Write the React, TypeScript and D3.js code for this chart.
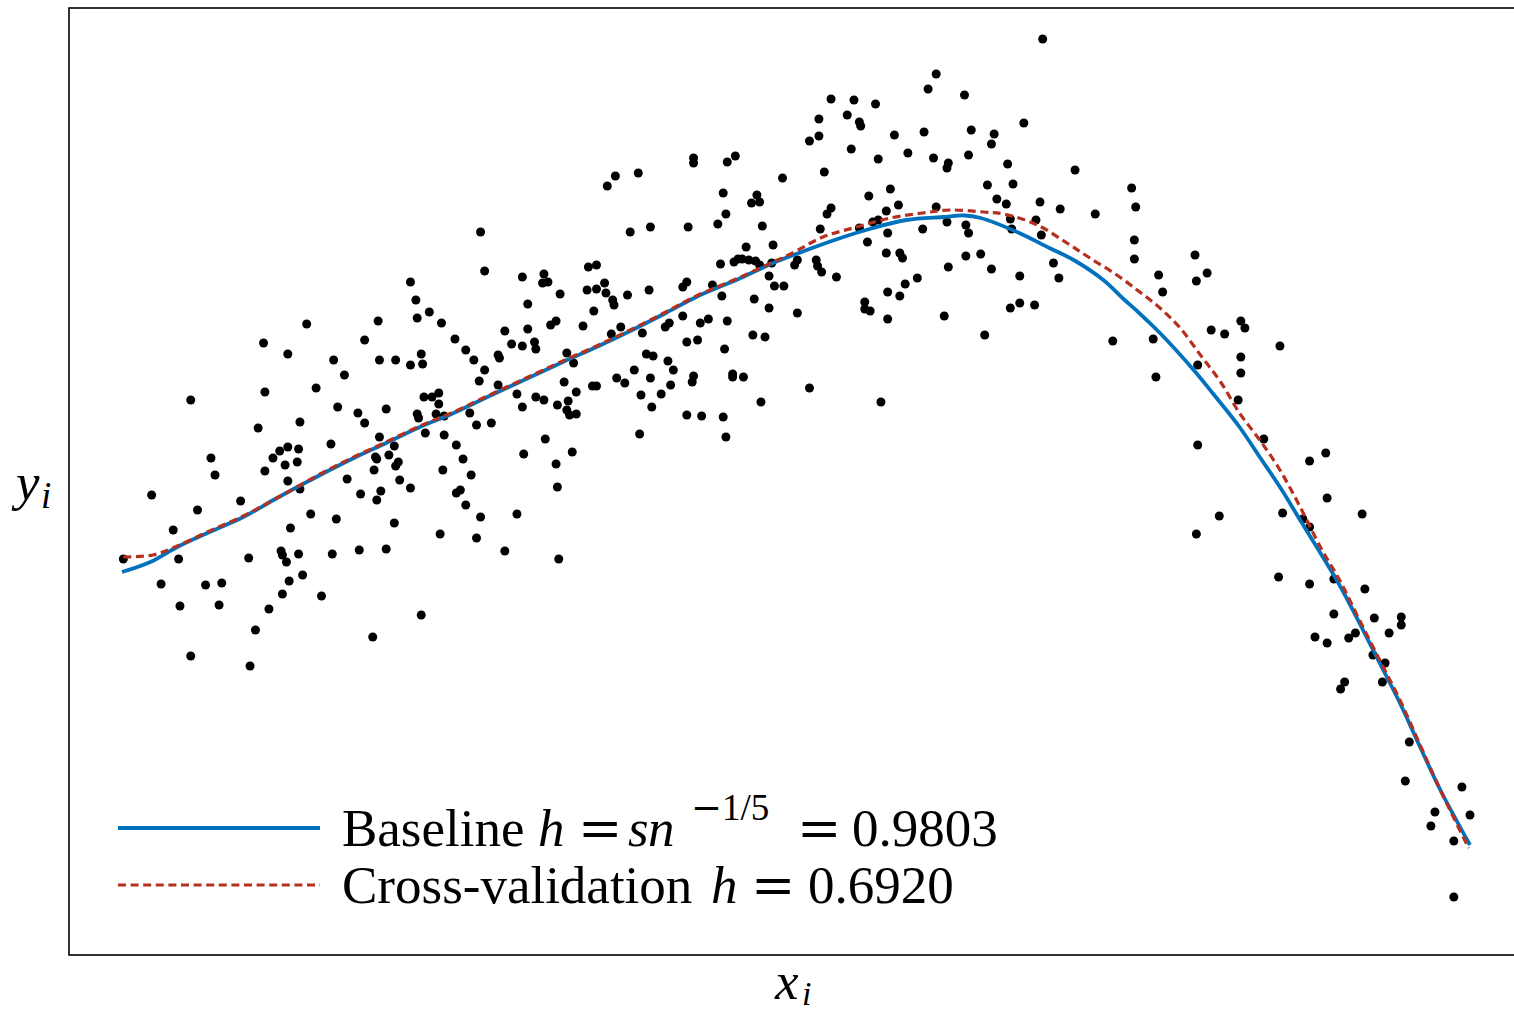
import React from "react";
import * as d3 from "d3";

// Observed sample points (x_i, y_i)
const samples: [number, number][] = [
  [1.37,2.76],[1.05,2.57],[1.23,2.46],[1.44,2.12],[0.51,2.00],[1.06,2.08],[1.32,1.78],[1.01,1.72],
  [1.17,1.49],[1.23,1.53],[1.31,1.51],[0.66,1.42],[1.12,1.42],[1.21,1.35],[1.30,1.38],[0.69,1.25],
  [1.06,1.29],[1.23,1.19],[1.32,1.11],[0.22,1.05],[0.88,0.99],[0.56,0.90],[1.40,0.86],[1.25,0.72],
  [0.38,0.70],[0.01,0.41],[0.42,0.41],[0.94,0.42],[1.18,0.49],[1.19,0.45],[1.22,0.38],[1.31,0.46],
  [1.34,0.25],[0.29,0.16],[0.62,0.15],[0.74,0.17],[1.24,0.19],[1.19,0.06],[1.48,0.04],[0.43,-0.06],
  [0.72,-0.05],[1.09,-0.09],[0.99,-0.30],[0.51,-0.56],[0.95,-0.66],
  [2.66,3.68],[2.69,3.29],[2.97,3.23],[2.14,3.18],[3.01,2.96],[2.18,3.00],[2.28,2.88],[2.19,2.82],
  [1.90,2.79],[2.37,2.77],[3.01,2.71],[2.84,2.69],[1.80,2.60],[2.47,2.61],[2.89,2.56],[2.97,2.54],
  [2.55,2.50],[2.79,2.45],[2.80,2.42],[1.57,2.40],[1.91,2.40],[2.03,2.40],[2.22,2.46],[2.14,2.35],
  [2.23,2.36],[2.61,2.40],[2.69,2.30],[1.65,2.25],[2.65,2.19],[2.79,2.15],[2.24,2.03],[2.30,2.03],
  [2.35,2.07],[2.35,1.96],[2.93,2.06],[2.97,1.93],[1.60,1.93],[1.96,1.91],[1.75,1.87],[2.19,1.86],
  [2.20,1.82],[2.33,1.86],[2.39,1.84],[2.58,1.87],[1.80,1.77],[2.63,1.75],[2.74,1.77],[2.25,1.67],
  [2.39,1.65],[1.91,1.63],[1.55,1.56],[2.48,1.55],[2.02,1.54],[1.88,1.43],[1.89,1.41],[1.98,1.45],
  [2.05,1.38],[2.03,1.34],[1.87,1.30],[2.53,1.41],[2.98,1.46],[2.38,1.30],[2.59,1.25],[1.67,1.21],
  [2.06,1.20],[2.14,1.12],[2.48,1.07],[2.51,1.10],[1.92,1.09],[1.77,1.06],[1.89,1.00],[2.55,0.95],
  [2.66,0.83],[2.93,0.86],[1.59,0.81],[2.02,0.77],[2.36,0.66],[2.63,0.62],[2.84,0.49],[1.56,0.46],
  [1.76,0.50],[1.96,0.51],[2.22,-0.15],[1.86,-0.37],
  [4.24,4.42],[4.24,4.37],[4.55,4.44],[4.49,4.38],[3.66,4.24],[3.60,4.14],[3.83,4.27],[4.46,4.07],
  [4.48,3.86],[4.42,3.76],[3.77,3.68],[3.92,3.73],[4.20,3.73],[4.44,3.36],[4.54,3.38],[4.57,3.41],
  [3.46,3.33],[3.52,3.35],[3.13,3.26],[3.12,3.17],[3.16,3.18],[3.25,3.06],[3.45,3.10],[3.52,3.11],
  [3.58,3.17],[3.59,3.07],[3.64,3.00],[3.65,2.95],[3.75,3.05],[3.91,3.10],[4.16,3.13],[4.19,3.18],
  [4.38,3.15],[4.45,3.04],[3.50,2.89],[4.16,2.84],[3.18,2.75],[3.22,2.79],[3.42,2.74],[3.70,2.73],
  [3.63,2.66],[3.86,2.67],[4.03,2.73],[4.06,2.77],[4.29,2.77],[4.35,2.81],[4.49,2.79],[3.06,2.58],
  [3.07,2.51],[4.19,2.58],[4.27,2.60],[4.47,2.51],[3.30,2.47],[3.35,2.37],[3.89,2.46],[3.94,2.44],
  [4.05,2.39],[4.09,2.30],[3.80,2.30],[4.53,2.26],[4.53,2.23],[3.28,2.18],[3.67,2.22],[3.73,2.17],
  [3.49,2.14],[3.52,2.14],[3.92,2.22],[4.24,2.24],[4.23,2.18],[4.07,2.15],[3.07,2.03],[3.13,2.00],
  [3.37,2.08],[3.31,1.99],[3.23,1.95],[3.30,1.90],[3.32,1.85],[3.37,1.86],[3.85,2.05],[4.00,2.06],
  [3.93,1.93],[4.19,1.85],[4.30,1.84],[4.46,1.83],[4.48,1.63],[3.14,1.61],[3.84,1.66],[3.34,1.48],
  [3.22,1.36],[3.23,1.13],[3.24,0.41],
  [6.04,5.26],[5.98,5.11],[5.26,5.01],[5.43,5.00],[5.59,4.96],[5.38,4.85],[5.17,4.81],[5.47,4.78],
  [5.48,4.74],[5.95,4.68],[5.73,4.65],[5.17,4.64],[5.10,4.59],[5.41,4.51],[5.83,4.47],[5.61,4.41],
  [6.02,4.42],[6.13,4.37],[6.12,4.32],[4.90,4.22],[5.21,4.28],[5.54,4.04],[5.70,4.11],[4.71,4.05],
  [4.67,3.97],[4.73,3.98],[5.76,3.95],[5.26,3.92],[5.23,3.86],[5.67,3.89],[6.04,3.93],[4.75,3.74],
  [5.57,3.78],[5.61,3.80],[5.18,3.71],[5.47,3.72],[5.94,3.71],[6.12,3.78],[5.68,3.67],[4.63,3.53],
  [4.83,3.55],[5.53,3.58],[5.67,3.47],[5.77,3.47],[5.79,3.42],[4.60,3.41],[4.65,3.40],[4.70,3.39],
  [4.73,3.35],[4.82,3.37],[4.99,3.35],[5.01,3.40],[5.15,3.40],[5.16,3.34],[5.19,3.28],[5.30,3.23],
  [6.13,3.33],[4.80,3.24],[4.84,3.14],[4.91,3.14],[5.68,3.08],[5.81,3.16],[5.90,3.22],[5.77,3.04],
  [4.69,3.01],[4.80,2.92],[5.01,2.87],[5.51,2.98],[5.51,2.91],[5.55,2.89],[5.68,2.81],[6.10,2.84],
  [4.68,2.65],[4.77,2.63],[4.61,2.23],[5.10,2.12],[4.74,1.98],[5.63,1.98],
  [6.83,5.61],[6.25,5.05],[6.69,4.77],[6.30,4.70],[6.47,4.66],[6.45,4.56],[6.28,4.45],[6.57,4.36],
  [7.07,4.30],[6.42,4.15],[6.61,4.16],[7.49,4.12],[6.49,4.01],[6.56,3.96],[6.81,3.98],[7.52,3.93],
  [6.96,3.91],[7.22,3.86],[6.26,3.75],[6.28,3.67],[6.59,3.81],[6.60,3.71],[6.78,3.80],[6.82,3.65],
  [7.51,3.60],[6.26,3.44],[6.37,3.46],[6.45,3.31],[6.66,3.24],[6.91,3.37],[6.95,3.22],[7.51,3.41],
  [7.69,3.25],[6.59,2.92],[6.66,2.97],[6.77,2.95],[6.40,2.65],[7.35,2.59],[7.65,2.61],[7.67,2.23],
  [7.96,3.45],[8.05,3.27],[7.97,3.19],[7.72,3.08],[8.30,2.79],[8.33,2.72],[8.08,2.70],[8.18,2.66],
  [8.59,2.54],[8.30,2.43],[7.98,2.35],[8.30,2.27],[8.28,2.00],[8.47,1.61],[7.98,1.55],[8.81,1.39],
  [8.61,0.87],[8.14,0.84],[7.97,0.66],[8.76,0.81],[8.81,0.73],[8.58,0.23],[8.81,0.16],[8.85,-0.37],
  [8.93,1.47],[8.94,1.02],[9.20,0.86],[8.99,0.21],[9.22,0.11],[8.99,-0.14],[9.29,-0.18],[9.49,-0.17],
  [9.49,-0.25],[9.10,-0.38],[9.15,-0.33],[8.94,-0.43],[9.40,-0.33],[9.28,-0.55],[9.37,-0.63],[9.35,-0.82],
  [9.07,-0.82],[9.04,-0.89],[9.55,-1.42],[9.52,-1.81],[9.94,-1.87],[9.74,-2.12],[10.00,-2.15],[9.71,-2.26],
  [9.88,-2.41],[9.88,-2.97],
];

// Baseline bandwidth estimate h = s n^{-1/5} = 0.9803
const baselineX = [0,0.21,0.41,0.65,0.90,1.15,1.47,1.72,1.96,2.21,2.46,2.71,3.03,3.27,3.52,3.77,4.02,4.26,4.59,4.83,5.08,5.33,5.57,5.82,6.09,6.25,6.37,6.64,6.88,7.06,7.28,7.43,7.53,7.70,7.95,8.09,8.29,8.44,8.59,8.74,8.89,9.04,9.18,9.33,9.48,9.63,9.78,10.0];
const baselineY = [0.28,0.38,0.53,0.68,0.83,1.02,1.25,1.42,1.57,1.73,1.87,2.03,2.23,2.38,2.53,2.69,2.86,3.03,3.22,3.37,3.50,3.62,3.72,3.80,3.83,3.845,3.82,3.68,3.52,3.40,3.20,3.01,2.89,2.67,2.30,2.07,1.73,1.43,1.13,0.80,0.47,0.13,-0.23,-0.63,-1.03,-1.47,-1.90,-2.45];

// Cross-validation estimate h = 0.6920
const cvX = [0.01,0.23,0.41,0.65,0.90,1.15,1.47,1.72,1.96,2.21,2.46,2.71,3.03,3.27,3.52,3.77,4.02,4.26,4.59,4.83,4.96,5.20,5.45,5.70,5.94,6.14,6.39,6.54,6.79,7.01,7.18,7.38,7.55,7.70,7.85,8.00,8.15,8.29,8.44,8.59,8.74,8.89,9.04,9.18,9.33,9.48,9.63,9.78,9.99];
const cvY = [0.43,0.45,0.54,0.69,0.84,1.02,1.26,1.43,1.58,1.74,1.88,2.04,2.24,2.39,2.54,2.70,2.87,3.04,3.23,3.38,3.46,3.63,3.73,3.82,3.87,3.90,3.88,3.86,3.75,3.57,3.42,3.25,3.08,2.92,2.72,2.45,2.18,1.87,1.60,1.30,0.93,0.53,0.18,-0.20,-0.60,-1.00,-1.45,-1.90,-2.48];

const legendLabels = ["Baseline", "Cross-validation"];
const baselineValue = "0.9803";
const cvValue = "0.6920";

const W = 1514;
const H = 1013;
const BLUE = "#0072BD";
const RED = "#B5301F";
const FONT = "'Liberation Serif', 'Times New Roman', serif";
const SYM = "'DejaVu Serif', serif";

export default function App() {
  const x = d3.scaleLinear().domain([0, 10]).range([122, 1470]);
  const y = d3.scaleLinear().domain([-3, 6]).range([900, 0]);

  const line = d3
    .line<[number, number]>()
    .x((d) => x(d[0]))
    .y((d) => y(d[1]))
    .curve(d3.curveCatmullRom.alpha(0.5));

  const basePts: [number, number][] = baselineX.map((v, i) => [v, baselineY[i]]);
  const cvPts: [number, number][] = cvX.map((v, i) => [v, cvY[i]]);

  const fs = 53;
  const sup = 37;

  return (
    <svg
      width={W}
      height={H}
      style={{ position: "absolute", left: 0, top: 0, background: "#fff" }}
      xmlns="http://www.w3.org/2000/svg"
    >
      <rect x={0} y={0} width={W} height={H} fill="#fff" />
      {/* axes box (right edge lies beyond the canvas) */}
      <rect x={69} y={8} width={1520} height={947} fill="none" stroke="#000" strokeWidth={1.6} />

      {samples.map((d, i) => (
        <circle key={i} cx={x(d[0])} cy={y(d[1])} r={4.5} fill="#000" />
      ))}

      <path d={line(basePts) || ""} fill="none" stroke={BLUE} strokeWidth={3.8} strokeLinejoin="round" />
      <path d={line(cvPts) || ""} fill="none" stroke={RED} strokeWidth={3.2} strokeDasharray="8 4.6" />

      {/* legend */}
      <line x1={118} x2={320} y1={828} y2={828} stroke={BLUE} strokeWidth={3.8} />
      <line x1={118} x2={320} y1={885} y2={885} stroke={RED} strokeWidth={3.2} strokeDasharray="8 4.6" />

      <text fontFamily={FONT} fontSize={fs} y={846} fill="#000">
        <tspan x={342}>{legendLabels[0]}</tspan>
        <tspan x={538} fontStyle="italic">h</tspan>
        <tspan x={578} fontFamily={SYM} fontSize={fs}>=</tspan>
        <tspan x={628} fontStyle="italic">s</tspan>
        <tspan x={648} fontStyle="italic">n</tspan>
        <tspan x={691} y={820} fontSize={sup} fontFamily={SYM}>−</tspan>
        <tspan y={820} fontSize={sup}>1/5</tspan>
        <tspan x={797} y={846} fontFamily={SYM}>=</tspan>
        <tspan x={852}>{baselineValue}</tspan>
      </text>
      <text fontFamily={FONT} fontSize={fs} y={903} fill="#000">
        <tspan x={342}>{legendLabels[1]}</tspan>
        <tspan x={711} fontStyle="italic">h</tspan>
        <tspan x={751} fontFamily={SYM}>=</tspan>
        <tspan x={808}>{cvValue}</tspan>
      </text>

      {/* axis labels */}
      <text fontFamily={FONT} fontSize={fs} y={500} fill="#000">
        <tspan x={16} fontStyle="italic">y</tspan>
        <tspan x={41} y={508} fontSize={sup} fontStyle="italic">i</tspan>
      </text>
      <text fontFamily={FONT} fontSize={fs} y={999} fill="#000">
        <tspan x={775} fontStyle="italic">x</tspan>
        <tspan x={802} y={1005} fontSize={34} fontStyle="italic">i</tspan>
      </text>
    </svg>
  );
}
